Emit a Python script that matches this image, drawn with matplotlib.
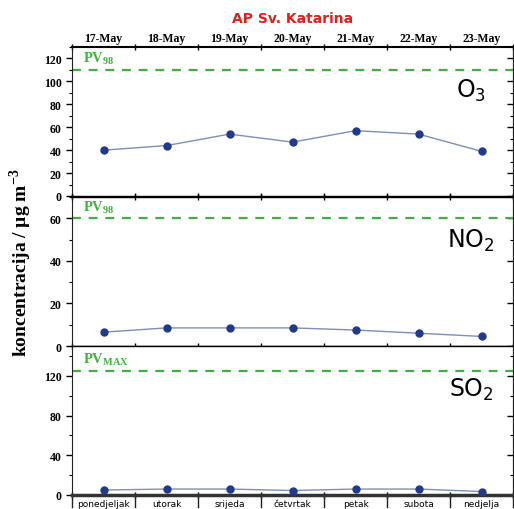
import matplotlib
matplotlib.use("Agg")
import matplotlib.pyplot as plt
import numpy as np
from matplotlib.ticker import MultipleLocator, FixedLocator, NullFormatter

plt.rcParams["mathtext.fontset"] = "custom"
plt.rcParams["mathtext.rm"] = "Liberation Serif:bold"
plt.rcParams["mathtext.bf"] = "Liberation Serif:bold"
plt.rcParams["mathtext.sf"] = "DejaVu Sans"

dates = ["17-May", "18-May", "19-May", "20-May", "21-May", "22-May", "23-May"]
days = ["ponedjeljak", "utorak", "srijeda", "četvrtak", "petak", "subota", "nedjelja"]
o3 = [40, 44, 54, 47, 57, 54, 39]
no2 = [6.5, 8.5, 8.5, 8.5, 7.5, 6, 4.5]
so2 = [5, 6, 6, 4.5, 6, 6, 3.5]
limits = [110, 60, 125]
limit_labels = [r"$\mathrm{PV}_{\mathrm{98}}$", r"$\mathrm{PV}_{\mathrm{98}}$", r"$\mathrm{PV}_{\mathrm{MAX}}$"]
gases = [r"$\mathsf{O}_{\mathsf{3}}$", r"$\mathsf{NO}_{\mathsf{2}}$", r"$\mathsf{SO}_{\mathsf{2}}$"]
ylims = [130, 70, 150]
majors = [20, 20, 40]
minors = [10, 10, 20]
series = [o3, no2, so2]

fig = plt.figure(figsize=(5.14, 5.10), dpi=100)
L, R = 72/514, 513/514
tops = [48, 198, 347]
h = 149
axes = []
x = np.arange(len(dates))
serif = "Liberation Serif"
for i in range(3):
    ax = fig.add_axes([L, 1-(tops[i]+h)/510, R-L, h/510])
    axes.append(ax)
    ax.plot(x, series[i], color="#7f8fb5", lw=1.0, zorder=2)
    ax.plot(x, series[i], 'o', color="#22398c", ms=5, zorder=3)
    ax.axhline(limits[i], color="#3db33d", lw=1.6, ls=(0, (4, 3.5)), zorder=1)
    ax.text(-0.32, limits[i] + ylims[i]*0.025, limit_labels[i], color="#3db33d",
            fontsize=10.5, va="bottom", ha="left")
    ax.text(0.905, 0.71, gases[i], transform=ax.transAxes, fontsize=17,
            ha="center", va="center")
    ax.set_xlim(-0.5, 6.5)
    ax.set_ylim(0, ylims[i])
    ax.yaxis.set_major_locator(MultipleLocator(majors[i]))
    ax.yaxis.set_minor_locator(MultipleLocator(minors[i]))
    ax.tick_params(axis="y", which="major", direction="out", length=4, width=1,
                   labelsize=8.5, right=False)
    ax.tick_params(axis="y", which="minor", direction="out", length=2.5, width=0.8, right=False)
    for lab in ax.get_yticklabels():
        lab.set_fontweight("bold"); lab.set_family(serif)
    axr = ax.secondary_yaxis("right")
    axr.yaxis.set_major_locator(MultipleLocator(majors[i]))
    axr.yaxis.set_minor_locator(MultipleLocator(minors[i]))
    axr.yaxis.set_major_formatter(NullFormatter())
    axr.tick_params(which="major", direction="in", length=4, width=1)
    axr.tick_params(which="minor", direction="in", length=2.5, width=0.8)
    axr.spines["right"].set_linewidth(0.8)
    ax.xaxis.set_major_locator(FixedLocator(np.arange(-0.5, 7, 1)))
    ax.xaxis.set_major_formatter(NullFormatter())
    ax.tick_params(axis="x", which="major", direction="inout", length=5, width=1,
                   top=True, bottom=True)
    for s in ["left", "right"]:
        ax.spines[s].set_linewidth(0.8)
        ax.spines[s].set_color("#222222")
    ax.spines["top"].set_linewidth(1.0)
    ax.spines["bottom"].set_linewidth(1.0)

axes[0].spines["top"].set_linewidth(1.5)

for xi, d in zip(x, dates):
    axes[0].text(xi, 1.02, d, transform=axes[0].get_xaxis_transform(), ha="center",
                 va="bottom", fontsize=8.5, fontweight="bold", family=serif)
axes[0].text(0.5, 1.15, "AP Sv. Katarina", transform=axes[0].transAxes, ha="center",
             va="bottom", fontsize=10, fontweight="bold", color="#e0201c", family="DejaVu Sans")

ab = axes[2]
ab.spines["bottom"].set_linewidth(2.5)
ab.spines["bottom"].set_color("#333333")
ab.tick_params(axis="x", which="major", top=False)
for xb in np.arange(-0.5, 7, 1):
    ab.plot([xb, xb], [0, -0.08], transform=ab.get_xaxis_transform(), color="#222222",
            lw=1, clip_on=False)
for xi, d in zip(x, days):
    ab.text(xi, -0.025, d, transform=ab.get_xaxis_transform(), ha="center", va="top",
            fontsize=6.5, family="DejaVu Sans")

fig.text(0.04, 0.485, r"koncentracija / µg m$^{\mathrm{-3}}$", rotation=90, ha="center", va="center",
         fontsize=14, fontweight="bold", family=serif)

fig.savefig("out.png", dpi=100)
